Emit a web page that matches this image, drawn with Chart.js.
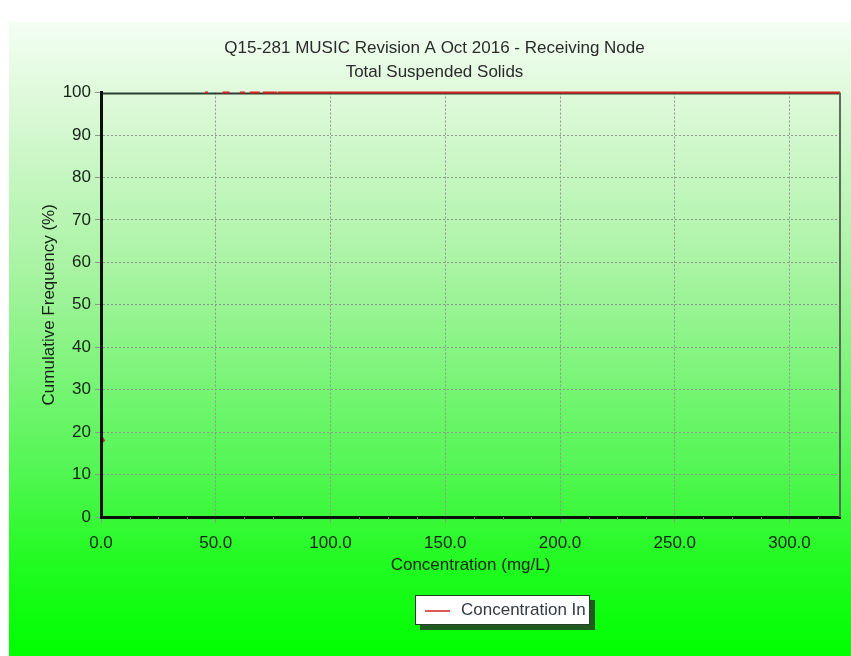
<!DOCTYPE html>
<html>
<head>
<meta charset="utf-8">
<title>Q15-281 MUSIC Revision A Oct 2016 - Receiving Node</title>
<script src="https://cdn.jsdelivr.net/npm/chart.js@4/dist/chart.umd.min.js"></script>
<style>
  html, body { margin: 0; padding: 0; background: #fff; }
  #wrap { width: 851px; height: 656px; position: relative; }
</style>
</head>
<body>
<div id="wrap"><canvas id="chart" width="851" height="656"></canvas></div>
<script>
// values
const titleLines = ["Q15-281 MUSIC Revision A Oct 2016 - Receiving Node", "Total Suspended Solids"];
const seriesName = "Concentration In";
// concentration (mg/L) and cumulative frequency (%), null = gap in the plotted line
const concentration = [0, 0.1, 0.2, 1.3, 0.3, 0.3, null, 45.3, 46.6, null, 53, 56, null, 60.5, 62.7, null, 64.8, 69.2, null, 70.5, 76.6, null, 77, 120, 180, 250, 300, 322];
const cumFrequency  = [0, 8, 17.5, 18, 19, 99.6, null, 100, 100, null, 100, 100, null, 100, 100, null, 100, 100, null, 100, 100, null, 100, 100, 100, 100, 100, 100];
const xTicks = [0, 50, 100, 150, 200, 250, 300];
const yTicks = [0, 10, 20, 30, 40, 50, 60, 70, 80, 90, 100];
const xMax = 322;

const points = concentration.map((c, i) => (c === null ? { x: null, y: null } : { x: c, y: cumFrequency[i] }));

const fontFamily = "'Liberation Sans', Arial, sans-serif";
const textColor = "#142414";
const gridColor = "#8e978e";

// green gradient behind everything, plus the plot frame lines
const backdrop = {
  id: "backdrop",
  beforeDraw(chart) {
    const ctx = chart.ctx;
    const g = ctx.createLinearGradient(0, 22, 0, 656);
    g.addColorStop(0, "#f3fff3");
    g.addColorStop(0.12, "#def9da");
    g.addColorStop(0.4, "#a6f3a0");
    g.addColorStop(0.7, "#55f655");
    g.addColorStop(0.85, "#22fb22");
    g.addColorStop(1, "#00ff00");
    ctx.save();
    ctx.fillStyle = g;
    ctx.fillRect(9, 22, 842, 634);
    ctx.restore();
  },
  beforeDatasetsDraw(chart) {
    const { ctx, chartArea: a } = chart;
    ctx.save();
    ctx.strokeStyle = "#2f3f2f";
    ctx.lineWidth = 2;
    ctx.beginPath();
    ctx.moveTo(a.left, a.top + 1);
    ctx.lineTo(a.right, a.top + 1);
    ctx.stroke();
    ctx.strokeStyle = "#5a6e5a";
    ctx.beginPath();
    ctx.moveTo(a.right, a.top);
    ctx.lineTo(a.right, a.bottom);
    ctx.stroke();
    // minor ticks on the x axis
    const xs = chart.scales.x;
    ctx.strokeStyle = "#6d7d6d";
    ctx.lineWidth = 1;
    for (let v = 12.5; v < xMax; v += 12.5) {
      if (v % 50 === 0) continue;
      const px = Math.round(xs.getPixelForValue(v)) + 0.5;
      ctx.beginPath();
      ctx.moveTo(px, a.bottom);
      ctx.lineTo(px, a.bottom + 3);
      ctx.stroke();
    }
    ctx.restore();
  },
  afterDraw(chart) {
    // boxed legend with drop shadow
    const ctx = chart.ctx;
    const ds = chart.data.datasets[0];
    const x = 415, y = 595, w = 175, h = 30;
    ctx.save();
    ctx.fillStyle = "#1f5a1f";
    ctx.fillRect(x + 5, y + 5, w, h);
    ctx.fillStyle = "#ffffff";
    ctx.fillRect(x, y, w, h);
    ctx.strokeStyle = "#2a3f2a";
    ctx.lineWidth = 1;
    ctx.strokeRect(x + 0.5, y + 0.5, w - 1, h - 1);
    ctx.strokeStyle = ds.borderColor;
    ctx.lineWidth = 1.5;
    ctx.beginPath();
    ctx.moveTo(425, 611);
    ctx.lineTo(450, 611);
    ctx.stroke();
    ctx.fillStyle = "#333a40";
    ctx.font = "17px " + fontFamily;
    ctx.textBaseline = "middle";
    ctx.fillText(ds.label, 461, 610);
    ctx.restore();
  }
};

new Chart(document.getElementById("chart"), {
  type: "line",
  data: {
    datasets: [{
      label: seriesName,
      data: points,
      borderColor: "#d42222",
      borderWidth: 2,
      pointRadius: 0,
      spanGaps: false,
      tension: 0,
      clip: false
    }]
  },
  options: {
    responsive: false,
    animation: false,
    layout: { padding: { left: 29, top: 0, right: 11, bottom: 80 } },
    plugins: {
      legend: { display: false },
      tooltip: { enabled: false },
      title: {
        display: true,
        text: titleLines,
        color: "#2a2a2a",
        font: { family: fontFamily, size: 17, weight: "normal", lineHeight: 1.37 },
        padding: { top: 37, bottom: 9 }
      }
    },
    scales: {
      x: {
        type: "linear",
        min: 0,
        max: xMax,
        afterBuildTicks(scale) { scale.ticks = xTicks.map(v => ({ value: v })); },
        afterFit(scale) { scale.height = 59; },
        ticks: {
          color: textColor,
          font: { family: fontFamily, size: 17 },
          padding: 10,
          maxRotation: 0,
          callback: v => v.toFixed(1)
        },
        grid: {
          color: gridColor,
          lineWidth: 1,
          tickLength: 6,
          tickColor: gridColor,
          tickBorderDash: []
        },
        border: { color: "#0a0f0a", width: 3, dash: [2, 2] },
        title: {
          display: true,
          text: "Concentration (mg/L)",
          color: textColor,
          font: { family: fontFamily, size: 17 },
          padding: { top: 0, bottom: 0 }
        }
      },
      y: {
        type: "linear",
        min: 0,
        max: 100,
        afterBuildTicks(scale) { scale.ticks = yTicks.map(v => ({ value: v })); },
        afterFit(scale) { scale.width = 72; },
        ticks: {
          color: textColor,
          font: { family: fontFamily, size: 17 },
          padding: 4
        },
        grid: {
          color: ctx => (ctx.tick && (ctx.tick.value === 100 || ctx.tick.value === 0) ? "rgba(0,0,0,0)" : gridColor),
          lineWidth: 1,
          tickLength: 6,
          tickColor: gridColor,
          tickBorderDash: []
        },
        border: { color: "#0a0f0a", width: 3, dash: [2, 2], z: 1 },
        title: {
          display: true,
          text: "Cumulative Frequency (%)",
          color: textColor,
          font: { family: fontFamily, size: 17 },
          padding: { top: 10, bottom: 0 }
        }
      }
    }
  },
  plugins: [backdrop]
});
</script>
</body>
</html>
